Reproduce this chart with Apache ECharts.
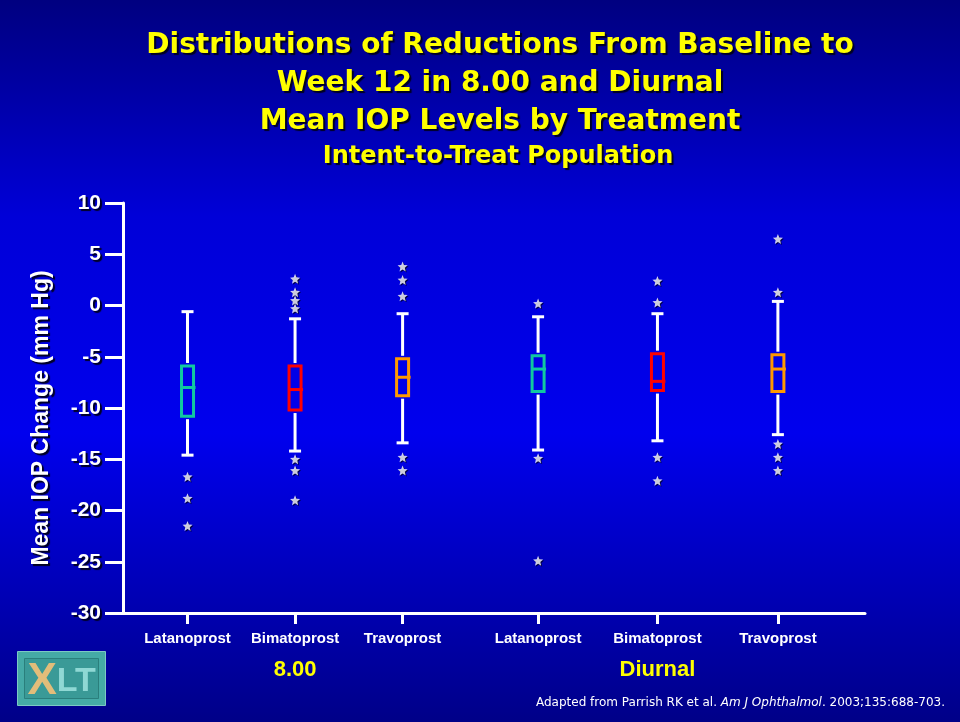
<!DOCTYPE html>
<html>
<head>
<meta charset="utf-8">
<title>IOP reductions by treatment</title>
<script src="https://cdn.jsdelivr.net/npm/echarts@6/dist/echarts.min.js"></script>
<style>
  html, body { margin: 0; padding: 0; }
  #chart { width: 960px; height: 722px; }
</style>
</head>
<body>
<div id="chart"></div>
<script>
// treatments, left group = 8.00, right group = diurnal
var treatments = ['Latanoprost', 'Bimatoprost', 'Travoprost', 'Latanoprost', 'Bimatoprost', 'Travoprost'];
var groupNames = ['8.00', 'Diurnal'];
// where each box sits on the x scale (gap between the two groups)
var xPos = [0, 1, 2, 3.26, 4.37, 5.49];
// box stats: [low whisker, Q1, median, Q3, high whisker]
var boxStats = [
  [-14.6, -10.8, -8.0, -5.9, -0.6],
  [-14.2, -10.2, -8.2, -5.9, -1.3],
  [-13.4, -8.8, -7.0, -5.2, -0.8],
  [-14.1, -8.4, -6.2, -4.9, -1.1],
  [-13.2, -8.3, -7.4, -4.7, -0.8],
  [-12.6, -8.4, -6.2, -4.8, 0.4]
];
var outliers = [
  [-16.7, -18.8, -21.5],
  [2.6, 1.3, 0.5, -0.3, -15.0, -16.1, -19.0],
  [3.8, 2.5, 0.9, -14.8, -16.1],
  [0.2, -14.9, -24.9],
  [2.4, 0.3, -14.8, -17.1],
  [6.5, 1.3, -13.5, -14.8, -16.1]
];
var yTicks = { min: -30, max: 10, step: 5 };
var boxColors = ['#10c8a0', '#ff0000', '#ff9900', '#10c8a0', '#ff0000', '#ff9900'];

var boxData = boxStats.map(function (s, i) { return [xPos[i]].concat(s); });
var outlierData = [];
outliers.forEach(function (list, i) {
  list.forEach(function (v) { outlierData.push([xPos[i], v]); });
});

function starPath() {
  var p = [];
  for (var i = 0; i < 10; i++) {
    var r = i % 2 ? 0.45 : 1;
    var a = Math.PI / 5 * i - Math.PI / 2;
    p.push((i ? 'L' : 'M') + (r * Math.cos(a)).toFixed(3) + ' ' + (r * Math.sin(a)).toFixed(3));
  }
  return 'path://' + p.join(' ') + 'Z';
}

var shadow = { textShadowColor: '#000022', textShadowOffsetX: 2, textShadowOffsetY: 2, textShadowBlur: 1 };
var font = '"Liberation Sans", Arial, sans-serif';
var titleFont = '"DejaVu Sans", Tahoma, sans-serif';

var myChart = echarts.init(document.getElementById('chart'));
myChart.setOption({
  backgroundColor: {
    type: 'linear', x: 0, y: 0, x2: 0, y2: 1,
    colorStops: [
      { offset: 0, color: '#000080' },
      { offset: 0.3, color: '#0000d8' },
      { offset: 0.6, color: '#0000ee' },
      { offset: 1, color: '#000088' }
    ]
  },
  title: [{
    text: 'Distributions of Reductions From Baseline to\nWeek 12 in 8.00 and Diurnal\nMean IOP Levels by Treatment',
    left: 495, top: 22, textAlign: 'center',
    textStyle: Object.assign({ color: '#ffff00', fontSize: 28, fontWeight: 'bold', fontFamily: titleFont, lineHeight: 38 }, shadow)
  }, {
    text: 'Intent-to-Treat Population',
    left: 493, top: 140, textAlign: 'center',
    textStyle: Object.assign({ color: '#ffff00', fontSize: 24, fontWeight: 'bold', fontFamily: titleFont }, shadow)
  }],
  grid: { left: 123, right: 95, top: 203, bottom: 109 },
  xAxis: {
    type: 'value',
    min: -0.6, max: 6.3,
    splitLine: { show: false },
    axisLine: { onZero: false, lineStyle: { color: '#fff', width: 3 } },
    axisTick: { customValues: xPos, length: 11, lineStyle: { color: '#fff', width: 3 } },
    axisLabel: {
      customValues: xPos,
      margin: 16,
      formatter: function (v) {
        var i = xPos.indexOf(v);
        if (i < 0) return '';
        var s = '{n|' + treatments[i] + '}';
        if (i === 1) s += '\n{g|' + groupNames[0] + '}';
        if (i === 4) s += '\n{g|' + groupNames[1] + '}';
        return s;
      },
      rich: {
        n: { color: '#fff', fontSize: 15, fontWeight: 'bold', fontFamily: font, lineHeight: 20,
          textShadowColor: '#000022', textShadowOffsetX: 1, textShadowOffsetY: 1 },
        g: { color: '#ffff00', fontSize: 22, fontWeight: 'bold', fontFamily: font, lineHeight: 42,
          textShadowColor: '#000022', textShadowOffsetX: 1, textShadowOffsetY: 1 }
      }
    }
  },
  yAxis: {
    type: 'value',
    min: yTicks.min, max: yTicks.max, interval: yTicks.step,
    name: 'Mean IOP Change (mm Hg)',
    nameLocation: 'middle',
    nameGap: 70,
    nameTextStyle: Object.assign({ color: '#fff', fontSize: 23, fontWeight: 'bold', fontFamily: font, padding: [0, 20, 0, 0] }, shadow),
    splitLine: { show: false },
    axisLine: { show: true, onZero: false, lineStyle: { color: '#fff', width: 3 } },
    axisTick: { length: 18, lineStyle: { color: '#fff', width: 3 } },
    axisLabel: Object.assign({ color: '#fff', fontSize: 21, fontWeight: 'bold', fontFamily: font, margin: 22 }, shadow)
  },
  series: [{
    type: 'custom',
    data: boxData,
    renderItem: function (params, api) {
      var x = api.value(0);
      var lo = api.coord([x, api.value(1)]);
      var q1 = api.coord([x, api.value(2)]);
      var md = api.coord([x, api.value(3)]);
      var q3 = api.coord([x, api.value(4)]);
      var hi = api.coord([x, api.value(5)]);
      var cx = lo[0], hw = 6, cw = 6;
      var color = boxColors[params.dataIndex];
      var white = { stroke: '#fff', lineWidth: 3 };
      return {
        type: 'group',
        children: [
          { type: 'line', shape: { x1: cx, y1: hi[1], x2: cx, y2: q3[1] - 3 }, style: white },
          { type: 'line', shape: { x1: cx, y1: q1[1] + 3, x2: cx, y2: lo[1] }, style: white },
          { type: 'line', shape: { x1: cx - cw, y1: hi[1], x2: cx + cw, y2: hi[1] }, style: white },
          { type: 'line', shape: { x1: cx - cw, y1: lo[1], x2: cx + cw, y2: lo[1] }, style: white },
          { type: 'rect', shape: { x: cx - hw, y: q3[1], width: hw * 2, height: q1[1] - q3[1] },
            style: { fill: 'none', stroke: color, lineWidth: 3 } },
          { type: 'line', shape: { x1: cx - hw, y1: md[1], x2: cx + hw + 2, y2: md[1] },
            style: { stroke: color, lineWidth: 3 } }
        ]
      };
    }
  }, {
    type: 'scatter',
    data: outlierData,
    symbol: starPath(),
    symbolSize: 10,
    itemStyle: { color: '#fff', shadowColor: '#000022', shadowOffsetX: 1, shadowOffsetY: 1 }
  }],
  graphic: [{
    type: 'text',
    right: 15, top: 697,
    style: {
      text: 'Adapted from Parrish RK et al. {i|Am J Ophthalmol}. 2003;135:688-703.',
      fill: '#fff', fontSize: 12, fontFamily: '"DejaVu Sans", Verdana, sans-serif',
      rich: { i: { fontStyle: 'italic', fontSize: 12, fill: '#fff', fontFamily: '"DejaVu Sans", Verdana, sans-serif' } }
    }
  }, {
    type: 'group', left: 17, top: 651,
    children: [
      { type: 'rect', shape: { x: 0, y: 0, width: 88, height: 54 }, style: { fill: '#45aaa6', stroke: '#7cc8c4', lineWidth: 1 } },
      { type: 'rect', shape: { x: 7, y: 7, width: 74, height: 40 }, style: { fill: '#3a9a97', stroke: '#2a7f7c', lineWidth: 1 } },
      { type: 'text', x: 10, y: 8, style: {
        text: '{x|X}{t|LT}',
        rich: {
          x: { fontSize: 44, fontWeight: 'bold', fontFamily: font, fill: '#e2bd7a' },
          t: { fontSize: 34, fontWeight: 'bold', fontFamily: font, fill: '#8fd8d4' }
        }
      } }
    ]
  }]
});
</script>
</body>
</html>
